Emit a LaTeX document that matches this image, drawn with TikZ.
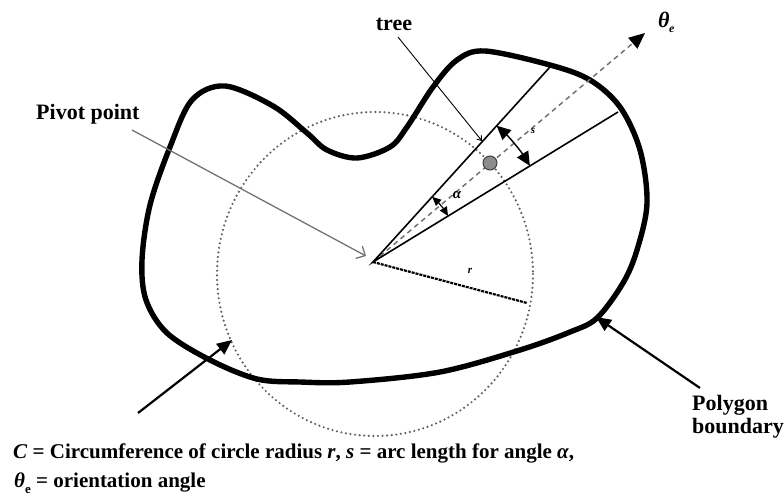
\documentclass[tikz,border=0pt]{standalone}
\usepackage{fontspec}
\setmainfont{Liberation Serif}
\usetikzlibrary{arrows.meta,calc}
\tikzset{
  poly/.style={line width=5.4pt, line join=round},
  dotcirc/.style={draw=black!62, line width=2.4pt, dash pattern=on 0pt off 4.6pt, line cap=round},
  wedgeline/.style={line width=1.6pt},
  orientline/.style={draw=black!55, line width=1.5pt, dash pattern=on 5pt off 4pt},
  rline/.style={line width=2.2pt, dash pattern=on 3pt off 1pt},
  lbl/.style={font=\bfseries\fontsize{22}{24}\selectfont, inner sep=0pt},
  captext/.style={font=\bfseries\fontsize{21}{24}\selectfont, inner sep=0pt, anchor=base west},
  bigarrow/.style={line width=2.2pt, -{Triangle[length=15pt,width=13pt]}},
}
\begin{document}
\begin{tikzpicture}[x=1pt,y=-1pt]
\useasboundingbox (0,0) rectangle (784,497);

% dotted circle
\draw[dotcirc] (375,274) ellipse [x radius=158, y radius=162];

% polygon boundary
\draw[poly] plot[smooth cycle, tension=0.55] coordinates {
 (225,86) (273,106) (307,133) (327,150) (357,158) (390,147) (407,127)
 (433,87) (457,60) (485,51) (550,65) (590,80) (620,107) (640,150)
 (647,203) (637,250) (623,283) (597,318) (570,332) (520,350) (440,372)
 (350,382) (300,382) (257,379) (210,360) (167,333) (146,300) (142,260)
 (150,205) (170,147) (192,100)};

% key points
\coordinate (P) at (373,262);
\coordinate (U) at (550,67);
\coordinate (L) at (618,112);
\coordinate (R) at (527,303);
\coordinate (O) at (645,33);

% orientation line
\draw[orientline, -{Triangle[length=16pt,width=14pt,color=black]}] (P) -- (O);

% wedge and radius
\draw[wedgeline] (U) -- (P) -- (L);
\draw[rline] (P) -- (R);

% tree
\node[circle, fill=black!45, draw=black!75, line width=1pt, minimum size=14pt, inner sep=0pt] (tree) at (490,163) {};

% alpha arc
\draw[line width=1.2pt, {Triangle[length=9pt,width=8pt]}-{Triangle[length=9pt,width=8pt]}]
  ($(P)+(-47.8:88)$) arc[start angle=-47.8, end angle=-31.5, radius=88];
\node[font=\itshape\bfseries\fontsize{15}{15}\selectfont, inner sep=0pt] (alab) at (457,195) {α};

% s arc
\draw[line width=1.4pt, {Triangle[length=14pt,width=13pt]}-{Triangle[length=14pt,width=13pt]}]
  ($(P)+(-47.8:184)$) arc[start angle=-47.8, end angle=-31.5, radius=184];
\node[font=\itshape\bfseries\fontsize{11}{11}\selectfont, inner sep=0pt] (slab) at (533,131) {s};

% r label
\node[font=\itshape\bfseries\fontsize{11}{11}\selectfont, inner sep=0pt] (rlab) at (470,271) {r};

% labels
\node[lbl, anchor=base] (treelbl) at (394,31) {tree};
\node[font=\bfseries\itshape\fontsize{22}{24}\selectfont, inner sep=0pt, anchor=base west] (thlab) at (658,28) {θ\kern-0.5pt\raisebox{-5pt}{\fontsize{12}{12}\selectfont e}};
\node[lbl, anchor=base west] (pivlbl) at (36,120) {Pivot point};
\node[lbl, anchor=base west] (polylbl) at (692,410) {Polygon};
\node[lbl, anchor=base west] (bndlbl) at (692,433) {boundary};

% connectors from labels
\coordinate (treestart) at (398,37);
\coordinate (treetip) at (482,141);
\draw[line width=0.9pt, -{Straight Barb[length=4pt,width=6pt]}] (treestart) -- (treetip);

\coordinate (pivstart) at (132,130);
\coordinate (pivtip) at (366,256);
\draw[draw=black!55, line width=1.3pt, -{Straight Barb[length=7pt,width=14pt]}] (pivstart) -- (pivtip);

\coordinate (polystart) at (700,388);
\coordinate (polytip) at (596,317);
\draw[bigarrow] (polystart) -- (polytip);

\coordinate (leftstart) at (138,413);
\coordinate (lefttip) at (232,340);
\draw[bigarrow] (leftstart) -- (lefttip);

% caption
\node[captext] (cap1) at (13,458) {\textit{C} = Circumference of circle radius \textit{r}, \textit{s} = arc length for angle\ \textit{α},};
\node[captext] (cap2) at (14,487) {\textit{θ}\raisebox{-6pt}{\fontsize{13}{13}\selectfont e} = orientation angle};
\end{tikzpicture}
\end{document}
